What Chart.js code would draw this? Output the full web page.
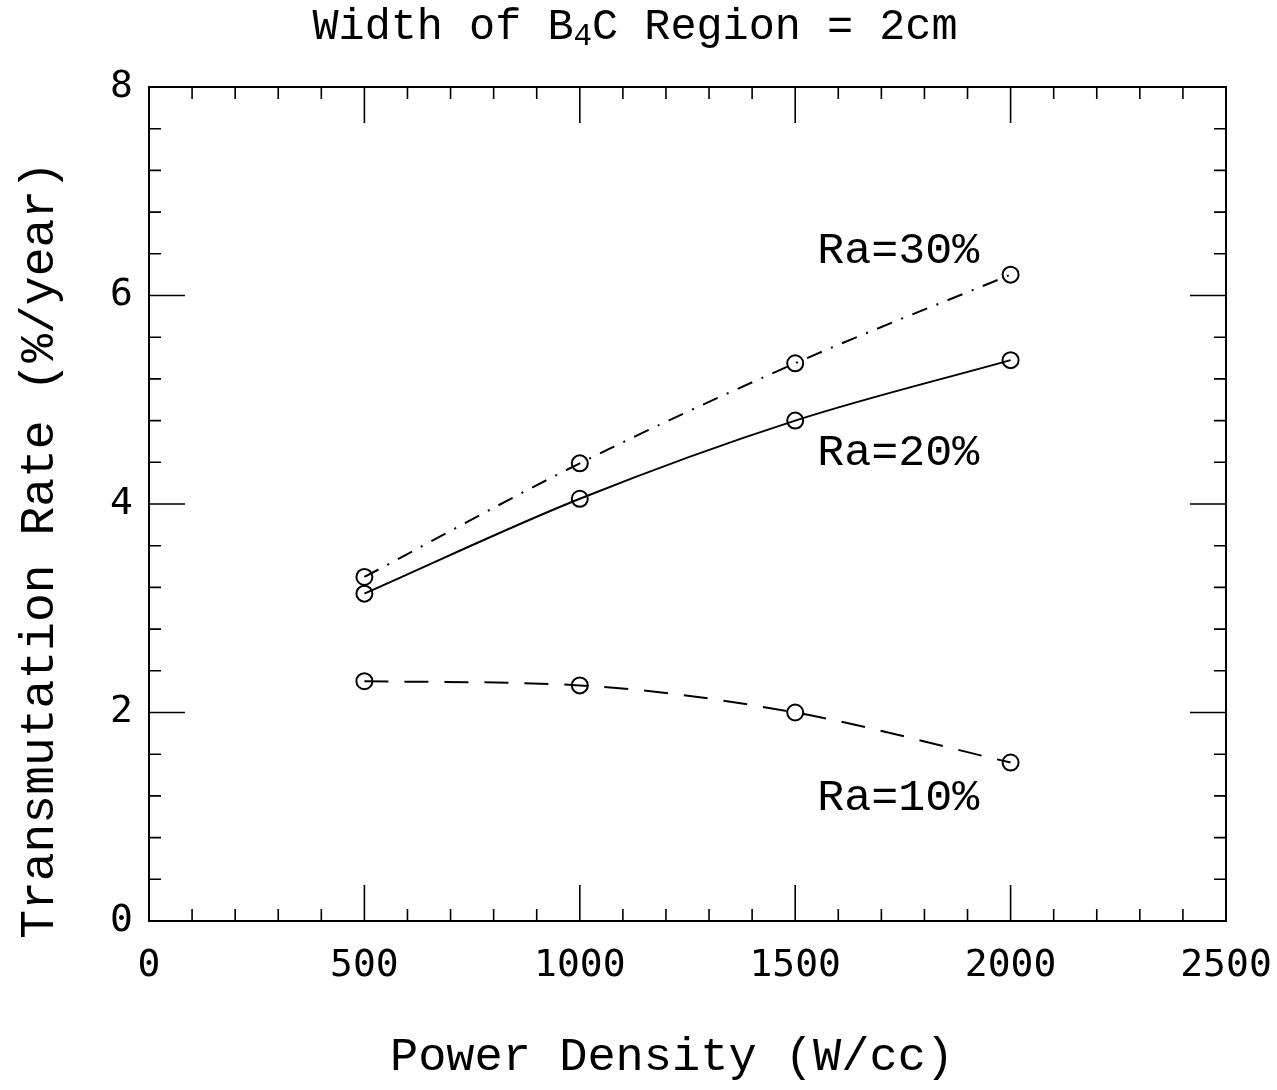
<!DOCTYPE html>
<html>
<head>
<meta charset="utf-8">
<script src="https://cdn.jsdelivr.net/npm/chart.js@4"></script>
<style>
  body { margin: 0; background: #fff; }
  #wrap { width: 1277px; height: 1090px; position: relative; }
</style>
</head>
<body>
<div id="wrap"><canvas id="rateChart"></canvas></div>
<script>
// power density (W/cc) on the x axis
const powerDensity = [500, 1000, 1500, 2000];

// transmutation rate (%/year) for each Ra
const ra30 = [3.30, 4.39, 5.35, 6.20];
const ra20 = [3.14, 4.05, 4.80, 5.38];
const ra10 = [2.30, 2.26, 2.00, 1.52];

const seriesNames = ['Ra=30%', 'Ra=20%', 'Ra=10%'];

// where the curve names sit (data units)
const curveLabels = [
  { text: 'Ra=30%', x: 1739, y: 6.43 },
  { text: 'Ra=20%', x: 1739, y: 4.49 },
  { text: 'Ra=10%', x: 1739, y: 1.18 }
];

const toPoints = (ys) => powerDensity.map((x, i) => ({ x: x, y: ys[i] }));

const textFont = '"Liberation Mono", "DejaVu Sans Mono", monospace';
const tickFont = '"DejaVu Sans Mono", monospace';

// frame, inward ticks (major + minor), titles and curve names
const decorPlugin = {
  id: 'decor',
  afterDraw(chart) {
    const ctx = chart.ctx;
    const a = chart.chartArea;
    const xs = chart.scales.x;
    const ys = chart.scales.y;
    ctx.save();
    ctx.strokeStyle = '#000';
    ctx.lineWidth = 2;
    ctx.strokeRect(a.left, a.top, a.right - a.left, a.bottom - a.top);

    ctx.lineWidth = 1.6;
    ctx.beginPath();
    for (let v = 0; v <= 2500; v += 100) {
      const len = v % 500 === 0 ? 36 : 12;
      const px = xs.getPixelForValue(v);
      ctx.moveTo(px, a.bottom); ctx.lineTo(px, a.bottom - len);
      ctx.moveTo(px, a.top); ctx.lineTo(px, a.top + len);
    }
    for (let i = 0; i <= 20; i++) {
      const v = i * 0.4;
      const len = i % 5 === 0 ? 36 : 12;
      const py = ys.getPixelForValue(v);
      ctx.moveTo(a.left, py); ctx.lineTo(a.left + len, py);
      ctx.moveTo(a.right, py); ctx.lineTo(a.right - len, py);
    }
    ctx.stroke();

    ctx.fillStyle = '#000';
    ctx.textBaseline = 'middle';

    // main title with subscript
    const big = '43.5px ' + textFont;
    const small = '31px ' + textFont;
    const parts = [['Width of B', big, 0], ['4', small, 10], ['C Region = 2cm', big, 0]];
    let total = 0;
    parts.forEach(p => { ctx.font = p[1]; total += ctx.measureText(p[0]).width; });
    let x = 635 - total / 2;
    ctx.textAlign = 'left';
    parts.forEach(p => {
      ctx.font = p[1];
      ctx.fillText(p[0], x, 27 + p[2]);
      x += ctx.measureText(p[0]).width;
    });

    // axis titles
    ctx.font = '47px ' + textFont;
    ctx.textAlign = 'center';
    ctx.fillText('Power Density (W/cc)', 672, 1058);
    ctx.font = '48px ' + textFont;
    ctx.save();
    ctx.translate(40, 550);
    ctx.rotate(-Math.PI / 2);
    ctx.fillText('Transmutation Rate (%/year)', 0, 0);
    ctx.restore();

    // curve names
    ctx.font = '45px ' + textFont;
    curveLabels.forEach(l => {
      ctx.fillText(l.text, xs.getPixelForValue(l.x), ys.getPixelForValue(l.y));
    });
    ctx.restore();
  }
};

const lineStyle = {
  borderColor: '#000',
  borderWidth: 2,
  pointStyle: 'circle',
  pointRadius: 8,
  pointBorderWidth: 2,
  pointBorderColor: '#000',
  pointBackgroundColor: 'rgba(0,0,0,0)',
  cubicInterpolationMode: 'monotone',
  fill: false
};

const config = {
  type: 'scatter',
  data: {
    datasets: [
      Object.assign({ label: seriesNames[0], data: toPoints(ra30), borderDash: [16, 10, 2, 10] }, lineStyle),
      Object.assign({ label: seriesNames[1], data: toPoints(ra20) }, lineStyle),
      Object.assign({ label: seriesNames[2], data: toPoints(ra10), borderDash: [24, 16] }, lineStyle)
    ]
  },
  options: {
    responsive: true,
    maintainAspectRatio: false,
    animation: false,
    showLine: true,
    layout: { padding: { top: 87, right: 51, left: 0, bottom: 0 } },
    plugins: {
      legend: { display: false },
      tooltip: { enabled: false }
    },
    scales: {
      x: {
        type: 'linear',
        min: 0,
        max: 2500,
        grid: { display: false, drawTicks: false },
        border: { display: false },
        ticks: {
          stepSize: 500,
          padding: 22,
          color: '#000',
          font: { family: tickFont, size: 38 },
          callback: (v) => String(v)
        },
        afterFit(scale) {
          scale.height = 169;
          scale.paddingLeft = 0;
          scale.paddingRight = 0;
        }
      },
      y: {
        type: 'linear',
        min: 0,
        max: 8,
        grid: { display: false, drawTicks: false },
        border: { display: false },
        ticks: {
          stepSize: 2,
          padding: 16,
          color: '#000',
          font: { family: tickFont, size: 38 },
          callback: (v) => String(v)
        },
        afterFit(scale) {
          scale.width = 149;
          scale.paddingTop = 0;
          scale.paddingBottom = 0;
        }
      }
    }
  },
  plugins: [decorPlugin]
};

const rateChart = new Chart(document.getElementById('rateChart'), config);
</script>
</body>
</html>
